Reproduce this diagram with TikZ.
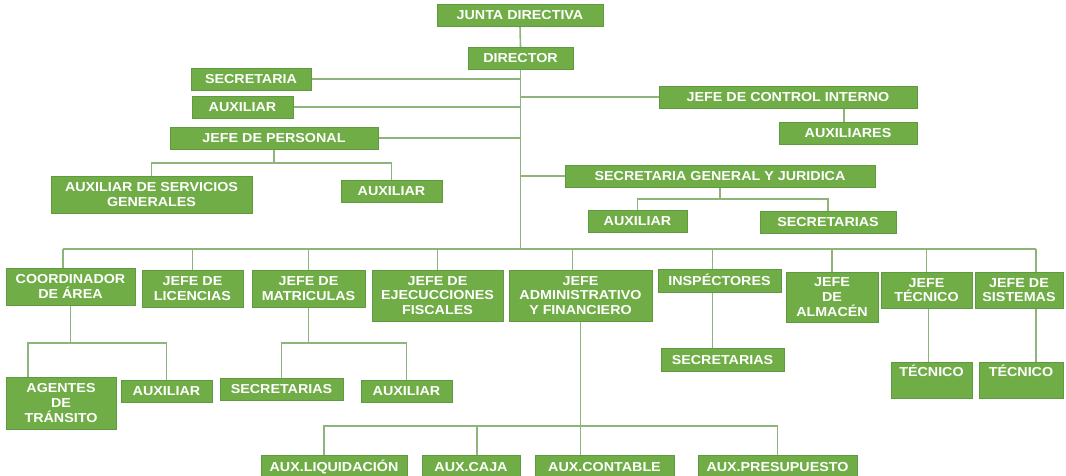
\documentclass[tikz,border=0pt]{standalone}
\usepackage{fontspec}
\setmainfont{Liberation Sans}[FakeStretch=1.1]
\usetikzlibrary{backgrounds}
\definecolor{boxgreen}{HTML}{70AD47}
\definecolor{boxedge}{HTML}{5E9A40}
\definecolor{linkc}{HTML}{8DB47A}
\tikzset{
  box/.style={draw=boxedge, line width=0.9pt, fill=boxgreen, text=white,
    font=\bfseries\fontsize{13}{14.8}\selectfont, align=center,
    inner sep=0pt, outer sep=0pt},
  one/.style={text height=9.4pt, text depth=0pt},
  link/.style={draw=linkc, line width=1.6pt},
}
\newcommand\orgbox[7][]{\node[box,minimum width={(#5-#3)*1pt},minimum height={(#6-#4)*1pt},#1] (#2) at ({(#3+#5)/2},{(#4+#6)/2}) {#7};}
\begin{document}
\begin{tikzpicture}[x=1pt,y=-1pt]
\useasboundingbox (0,0) rectangle (1066,476);
\clip (0,0) rectangle (1066,476);
% top
\orgbox[one]{junta}{437}{4}{603}{26}{JUNTA DIRECTIVA}
\orgbox[one]{director}{468}{47}{573}{69}{DIRECTOR}
\orgbox[one]{secretaria}{191}{68}{311}{90}{SECRETARIA}
\orgbox[one]{auxa}{192}{96}{293}{118}{AUXILIAR}
\orgbox[one]{personal}{170}{127}{378}{149}{JEFE DE PERSONAL}
\orgbox[one]{control}{659}{86}{917}{108}{JEFE DE CONTROL INTERNO}
\orgbox[one]{auxiliares}{779}{122}{917}{144}{AUXILIARES}
\orgbox{servicios}{51}{176}{252}{213}{AUXILIAR DE SERVICIOS\\GENERALES}
\orgbox[one]{auxp}{341}{180}{442}{202}{AUXILIAR}
\orgbox[one]{sgj}{565}{165}{875}{187}{SECRETARIA GENERAL Y JURIDICA}
\orgbox[one]{auxs}{588}{210}{687}{232}{AUXILIAR}
\orgbox[one]{secs}{760}{211}{896}{233}{SECRETARIAS}
% row
\orgbox{coord}{6}{268}{135}{305}{COORDINADOR\\DE ÁREA}
\orgbox{licencias}{142}{270}{243}{307}{JEFE DE\\LICENCIAS}
\orgbox{matr}{252}{270}{365}{307}{JEFE DE\\MATRICULAS}
\orgbox{ejec}{372}{270}{503}{321}{JEFE DE\\EJECUCCIONES\\FISCALES}
\orgbox{admin}{509}{270}{652}{321}{JEFE\\ADMINISTRATIVO\\Y FINANCIERO}
\orgbox[one]{insp}{658}{269}{781}{292}{INSPÉCTORES}
\orgbox{almacen}{786}{272}{878}{322}{JEFE\\DE\\ALMACÉN}
\orgbox{tecnico}{881}{272}{972}{308}{JEFE\\TÉCNICO}
\orgbox{sistemas}{975}{272}{1063}{308}{JEFE DE\\SISTEMAS}
% second level
\orgbox{agentes}{6}{377}{116}{429}{AGENTES\\DE\\TRÁNSITO}
\orgbox[one]{auxc}{121}{380}{212}{402}{AUXILIAR}
\orgbox[one]{secm}{220}{378}{343}{400}{SECRETARIAS}
\orgbox[one]{auxm}{361}{380}{452}{402}{AUXILIAR}
\orgbox[one]{secinsp}{661}{348}{784}{371}{SECRETARIAS}
\orgbox[text height=9.4pt,text depth=16pt]{tec1}{891}{362}{972}{398}{TÉCNICO}
\orgbox[text height=9.4pt,text depth=16pt]{tec2}{979}{362}{1063}{398}{TÉCNICO}
% bottom
\orgbox[one]{liq}{261}{455}{407}{478}{AUX.LIQUIDACIÓN}
\orgbox[one]{caja}{422}{455}{520}{478}{AUX.CAJA}
\orgbox[one]{contable}{535}{455}{674}{478}{AUX.CONTABLE}
\orgbox[one]{presup}{698}{455}{857}{478}{AUX.PRESUPUESTO}
% coordinates
\coordinate (spine) at (520,249);
\coordinate (busL) at (63,249);
\coordinate (busR) at (1036,249);
\coordinate (pbar) at (274,163);
\coordinate (sbar) at (720,199);
\coordinate (cbar) at (28,343);
\coordinate (abar) at (580,426);
\begin{scope}[on background layer]
\fill[white] (0,0) rectangle (1066,476);
\draw[link] (junta.south) -- (director.north);
\draw[link] (director.south) -- (director.south |- spine);
\draw[link] (busL) -- (busR);
\draw[link] (secretaria.east) -- (secretaria.east -| spine);
\draw[link] (auxa.east) -- (auxa.east -| spine);
\draw[link] (personal.east) -- (personal.east -| spine);
\draw[link] (control.west) -- (control.west -| spine);
\draw[link] (sgj.west) -- (sgj.west -| spine);
\draw[link] ([xshift=-4pt]auxiliares.north) -- ([xshift=-4pt]auxiliares.north |- control.south);
\draw[link] (personal.south) -- (personal.south |- pbar);
\draw[link] (servicios.north) |- (personal.south |- pbar) -| (auxp.north);
\draw[link] (sgj.south) -- (sgj.south |- sbar);
\draw[link] (auxs.north) |- (sgj.south |- sbar) -| (secs.north);
% bus drops
\draw[link] (busL) -- (busL |- coord.north);
\draw[link] (licencias.north) -- (licencias.north |- spine);
\draw[link] (matr.north) -- (matr.north |- spine);
\draw[link] (ejec.north) -- (ejec.north |- spine);
\draw[link] ([xshift=-8pt]admin.north) -- ([xshift=-8pt]admin.north |- spine);
\draw[link] ([xshift=-7pt]insp.north) -- ([xshift=-7pt]insp.north |- spine);
\draw[link] (almacen.north) -- (almacen.north |- spine);
\draw[link] (tecnico.north) -- (tecnico.north |- spine);
\draw[link] (busR) -- (busR |- sistemas.north);
% coordinator branch
\draw[link] (coord.south) -- (coord.south |- cbar);
\draw[link] (cbar |- agentes.north) -- (cbar) -| (auxc.north);
% matriculas branch
\draw[link] (matr.south) -- (matr.south |- cbar);
\draw[link] (secm.north) |- (matr.south |- cbar) -| (auxm.north);
% inspectores, tecnico, sistemas
\draw[link] ([xshift=-7pt]insp.south) -- ([xshift=-7pt]insp.south |- secinsp.north);
\draw[link] ([xshift=2pt]tecnico.south) -- ([xshift=2pt]tecnico.south |- tec1.north);
\draw[link] (sistemas.south -| busR) -- (tec2.north -| busR);
% admin branch
\draw[link] (admin.south) -- (admin.south |- contable.north);
\draw[link] ([xshift=-10pt]liq.north) |- (admin.south |- abar) -| (presup.north);
\draw[link] ([xshift=6pt]caja.north) -- ([xshift=6pt]caja.north |- abar);
\end{scope}
\end{tikzpicture}
\end{document}
